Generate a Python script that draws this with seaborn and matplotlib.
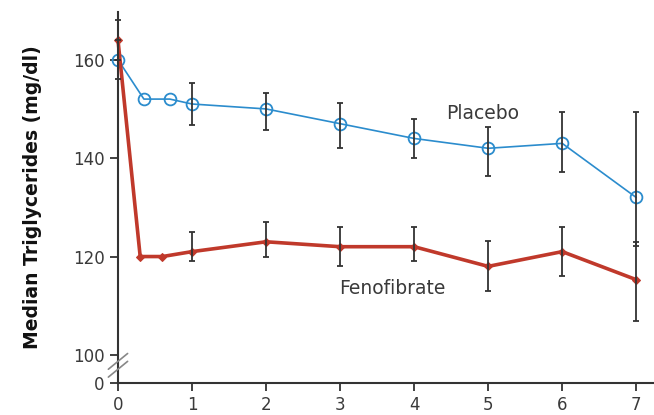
import numpy as np
import pandas as pd
import matplotlib
matplotlib.use("Agg")
import matplotlib.pyplot as plt
import seaborn as sns

# Median triglycerides over time (years)
placebo_x = [0, 0.35, 0.7, 1, 2, 3, 4, 5, 6, 7]
placebo_y = [160, 152, 152, 151, 150, 147, 144, 142, 143, 132]
feno_x = [0, 0.3, 0.6, 1, 2, 3, 4, 5, 6, 7]
feno_y = [164, 120, 120, 121, 123, 122, 122, 118, 121, 115.3]

# Interval bounds at the yearly visits
err_x = [0, 1, 2, 3, 4, 5, 6, 7]
placebo_lo = [156, 146.8, 145.8, 142, 140, 136.3, 137.2, 122.2]
placebo_hi = [164, 155.3, 153.3, 151.3, 148, 146.4, 149.4, 149.4]
feno_lo = [160, 119, 120, 118, 119, 113, 116, 107]
feno_hi = [168, 125, 127, 126, 126, 123.1, 126.1, 123]

y_ticks = [100, 120, 140, 160]
x_ticks = [0, 1, 2, 3, 4, 5, 6, 7]

BLUE = "#2b8ccd"
RED = "#c0392b"
ERR = "#333333"
TXT = "#3a3a3a"

sns.set_style("ticks")
plt.rcParams["font.family"] = ["DejaVu Sans"]

fig = plt.figure(figsize=(6.54, 4.15), dpi=100)
ax = fig.add_axes([0.1804, 0.0771, 0.8196, 0.894])

# axis break: the "0" tick sits just below 100
zero_pos = 94.3

pl = pd.DataFrame({"year": placebo_x, "tg": placebo_y})
fe = pd.DataFrame({"year": feno_x, "tg": feno_y})

sns.lineplot(data=pl, x="year", y="tg", ax=ax, color=BLUE, lw=1.2,
             marker="o", markersize=8.5, markerfacecolor="none",
             markeredgecolor=BLUE, markeredgewidth=1.3, clip_on=False, zorder=3)
sns.lineplot(data=fe, x="year", y="tg", ax=ax, color=RED, lw=2.6,
             marker="D", markersize=4.5, markerfacecolor=RED,
             markeredgecolor=RED, clip_on=False, zorder=3)

for lo, hi in [(placebo_lo, placebo_hi), (feno_lo, feno_hi)]:
    lo = np.array(lo)
    hi = np.array(hi)
    mid = (lo + hi) / 2
    ax.errorbar(err_x, mid, yerr=[mid - lo, hi - mid], fmt="none",
                ecolor=ERR, elinewidth=1.3, capsize=2, capthick=1.3,
                zorder=4, clip_on=False)

ax.set_xlim(0, 7.24)
ax.set_ylim(zero_pos, 169.7)
ax.set_xticks(x_ticks)
ax.set_xticklabels([str(t) for t in x_ticks])
ax.set_yticks([zero_pos] + y_ticks)
ax.set_yticklabels(["0"] + [str(t) for t in y_ticks])
ax.tick_params(axis="both", labelsize=12, colors="#333333", labelcolor=TXT,
               length=6, width=1.3, direction="out")

for s in ["top", "right"]:
    ax.spines[s].set_visible(False)
for s in ["left", "bottom"]:
    ax.spines[s].set_color("#333333")
    ax.spines[s].set_linewidth(1.5)

ax.set_xlabel("")
ax.set_ylabel("Median Triglycerides (mg/dl)", fontsize=13.5, fontweight="bold",
              color="#111111", labelpad=22)

# break marks on the y axis
for dy in (0, 1.6):
    ax.plot([-0.13, 0.13], [zero_pos + 1.2 + dy, zero_pos + 4.4 + dy],
            color="#888888", lw=1.2, clip_on=False, zorder=5)

ax.text(4.93, 149.0, "Placebo", fontsize=13.5, color=TXT, ha="center", va="center")
ax.text(3.7, 113.5, "Fenofibrate", fontsize=13.5, color=TXT, ha="center", va="center")

fig.savefig("out.png", dpi=100)
